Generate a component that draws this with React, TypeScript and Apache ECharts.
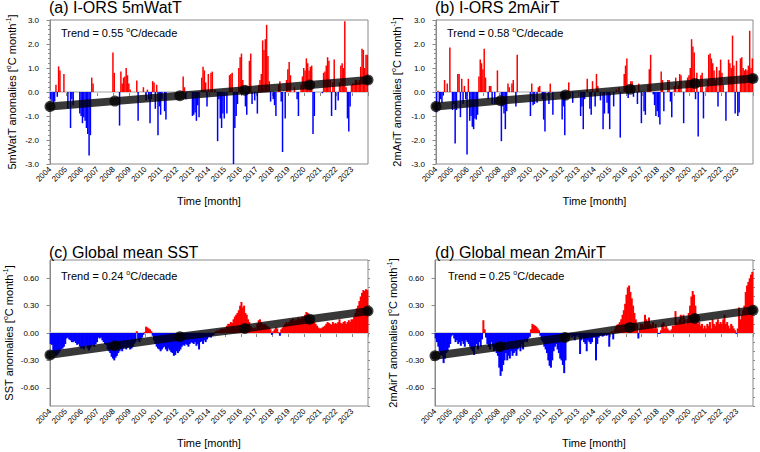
import React, { useEffect, useRef } from 'react';
import * as echarts from 'echarts';

const FONT = "'Liberation Sans', Arial, Helvetica, sans-serif";

const YEARS = ['2004','2005','2006','2007','2008','2009','2010','2011','2012','2013','2014','2015','2016','2017','2018','2019','2020','2021','2022','2023'];

// (a) I-ORS 5mWatT monthly anomalies, 2004-01 .. 2023-12 (0 = no bar)
const ANOM_A = [
  -0.3, -0.4, -0.5, -0.4, 0.3, -0.2, 1.07, 0.9, 0, 0, 0.75, 0,
  0, -0.7, 0, -1.5, -0.3, -0.55, 0, 0, 0, 0, -0.9, -1.0,
  -1.3, -1.05, -1.2, -1.5, -1.75, -2.65, -1.8, 0.6, 0.35, 0, 0, 0,
  0, 0, 0, 0, 0, 0, 0, 0, 0, 0, 0, 1.65,
  0.8, 0, 0, 0, -1.4, 0.85, 0.35, 0.6, 0.65, 1.0, 0.7, 0.35,
  0.1, 0, 0, 0, 0, 0.48, -1.2, 0, 0, 0, 0.2, 0,
  -0.35, 0.1, -0.3, -1.3, -0.3, 0.45, 0.4, -0.7, 0.3, -1.8, -0.6, -0.95,
  -0.3, 0, -0.8, -1.15, 0, 0, 0, 0, 0, 0, 0, 0,
  0, 0, 0, 0, 0.65, 0.2, -0.3, 0, 0, 0, 0, -1.0,
  -0.95, -0.85, -1.2, -0.55, -1.05, 0, 0.6, 1.05, 0.9, 0.4, -0.6, 0.75,
  0, 0.8, 0.85, 0, 0.1, 0, -2.05, -0.3, -1.1, -1.5, -0.9, -1.1,
  0, -0.9, 0, 0.7, 0.75, 0.8, -3.0, -1.5, -1.0, -0.5, 1.0, 1.45,
  1.6, 0.5, 0, -0.6, -0.95, 0, 1.3, 1.6, -0.5, 0, -0.35, 0,
  -0.9, 0.3, 0.5, 0.75, 2.15, 1.75, 2.2, 2.8, 1.5, 0.45, -0.4, 0,
  -0.3, -0.55, -1.0, 0, 0.3, 0.45, -0.4, -2.5, 0, -1.1, 0.5, 0.95,
  1.25, 0.7, 0, 0, 0.2, 0, -0.3, -1.0, 0, 0.3, 0.65, 1.0,
  0.9, 1.4, 1.2, 0.9, 1.05, 1.1, -1.75, -1.0, 0, 0, 0, 0,
  0, -0.05, 0.8, 0.85, 1.1, 1.45, 1.3, 0.5, -1.0, 0.4, 1.35, -0.75,
  0, -0.35, 0.4, 1.1, 1.2, 1.0, 2.95, 0.2, -1.1, -1.65, -0.6, 0.3,
  0.35, 0.35, 0.5, 0.5, 0.4, 0.5, 1.05, 1.8, 1.75, 1.0, 1.55, 1.55,
];

// (b) I-ORS 2mAirT
const ANOM_B = [
  -0.85, 0.05, -0.5, -0.3, -0.45, -0.15, 0.5, 0, 0.35, 0, 1.85, 0,
  -0.75, -0.5, -2.15, -0.75, 0.75, 0.75, -1.05, 0.55, -0.5, 0.25, -0.3, -2.6,
  0.55, -1.2, -1.0, -1.45, -1.55, -1.1, -1.15, -0.95, 0.65, 1.35, 1.2, 0.95,
  1.8, 0.6, 0, -0.3, 0.25, 0.25, -0.5, 0, -0.5, 0, 0.9, 0,
  0, -2.05, -0.6, -0.9, -1.55, -0.8, 0.35, 0.2, 0, 0.35, 0.5, 0,
  -0.6, 1.55, 0, 0, 0, 0, 0, 0, 0, 0, 0, -1.0,
  0.35, -0.55, -0.5, 0, -0.45, 0.2, 0.25, 0, -0.3, -1.15, -1.65, 0,
  0, -0.5, 0.35, 0, -0.95, 0, 0, 0, 0, 0, 0, -1.15,
  -0.6, -1.8, 0, 0, 0.4, 0, 0, -0.45, 0, 0, 0, 0,
  0, -1.0, -0.6, -1.55, -0.3, 0, 0.55, 0, -0.7, -0.95, 0.45, 0,
  -0.6, 0.75, 0.25, 0, -0.35, 0, -1.55, -0.9, 0, -0.45, -0.9, -1.55,
  0, 0, -0.6, 0, 0.1, 0, 0.2, -1.9, 0, 0, 0.75, 1.1,
  1.4, -0.25, 0, 0.45, 0.45, -0.2, 0, 0, -0.5, 0.35, 0, -1.3,
  0, -0.8, -0.95, 0, 0.3, 0.95, 1.55, 0, -0.1, -0.55, -1.0, -0.8,
  -1.05, -1.35, 0.85, 0.5, -0.8, 0, 0, 0.5, 0.5, -0.4, -1.05, 0,
  0.25, 0.6, 0, 0.3, 0.75, 0.7, 0, -1.3, 0, 0.45, 0.6, 0.7,
  1.0, 2.2, 1.9, 1.65, -0.3, 0.8, -1.85, 0, 0.7, 0.8, -1.1, 0,
  0.2, 0.5, 1.55, 1.6, 1.4, 1.2, 0.9, 0.5, 1.05, -0.6, 0.9, 1.35,
  0.8, 0.3, 0, -1.2, 0, 1.35, 1.2, 1.0, 2.35, 1.1, -0.9, 1.3,
  -1.0, -0.85, 1.4, 1.45, 1.0, 0.9, 0.95, 0.9, 1.1, 2.55, 1.0, 1.4,
];

// (c) Global mean SST
const ANOM_C = [
  -0.12, -0.13, -0.2, -0.22, -0.25, -0.24, -0.22, -0.2, -0.18, -0.17, -0.15, -0.12,
  -0.06, -0.05, -0.07, -0.08, -0.1, -0.1, -0.09, -0.11, -0.13, -0.12, -0.15, -0.17,
  -0.16, -0.18, -0.15, -0.14, -0.17, -0.19, -0.16, -0.14, -0.13, -0.15, -0.12, -0.1,
  -0.05, -0.06, -0.05, -0.08, -0.1, -0.12, -0.13, -0.18, -0.2, -0.22, -0.26, -0.28,
  -0.3, -0.27, -0.25, -0.22, -0.2, -0.18, -0.2, -0.17, -0.15, -0.18, -0.16, -0.15,
  -0.18, -0.17, -0.15, -0.12, -0.1, 0.02, -0.08, -0.1, -0.07, -0.05, -0.02, 0.01,
  0.07, 0.06, 0.05, 0.04, 0.02, -0.03, -0.08, -0.12, -0.15, -0.17, -0.18, -0.2,
  -0.18, -0.16, -0.15, -0.18, -0.2, -0.17, -0.19, -0.21, -0.22, -0.25, -0.24, -0.2,
  -0.22, -0.2, -0.18, -0.15, -0.13, -0.14, -0.12, -0.13, -0.15, -0.12, -0.1, -0.11,
  -0.12, -0.1, -0.14, -0.12, -0.18, -0.1, -0.09, -0.12, -0.08, -0.1, -0.07, -0.05,
  -0.04, -0.05, -0.03, -0.02, 0.01, 0.02, 0.03, 0.02, 0.04, 0.05, 0.04, 0.05,
  0.05, 0.08, 0.1, 0.1, 0.12, 0.11, 0.15, 0.18, 0.2, 0.22, 0.25, 0.3,
  0.34, 0.28, 0.3, 0.22, 0.2, 0.15, 0.12, 0.08, 0.06, 0.05, 0.06, 0.04,
  0.1, 0.14, 0.15, 0.12, 0.1, 0.09, 0.1, 0.08, 0.07, 0.06, 0.04, -0.02,
  0.02, 0.04, 0.06, 0.05, 0.01, -0.03, 0.04, 0.06, 0.08, 0.1, 0.12, 0.1,
  0.12, 0.14, 0.15, 0.16, 0.13, 0.15, 0.14, 0.17, 0.15, 0.16, 0.18, 0.17,
  0.2, 0.23, 0.22, 0.2, 0.18, 0.15, 0.14, 0.12, 0.1, 0.08, 0.06, 0.05,
  0.05, 0.06, 0.07, 0.08, 0.1, 0.12, 0.11, 0.1, 0.09, 0.12, 0.1, 0.11,
  0.1, 0.12, 0.15, 0.11, 0.1, 0.12, 0.13, 0.1, 0.12, 0.14, 0.12, 0.15,
  0.15, 0.18, 0.22, 0.27, 0.3, 0.35, 0.4, 0.44, 0.47, 0.46, 0.48, 0.47,
];

// (d) Global mean 2mAirT
const ANOM_D = [
  -0.06, -0.1, -0.15, -0.2, -0.24, -0.25, -0.33, -0.28, -0.22, -0.2, -0.16, -0.12,
  -0.03, -0.02, -0.06, -0.1, -0.08, -0.12, -0.1, -0.14, -0.09, -0.12, -0.15, -0.08,
  -0.1, -0.12, -0.15, -0.18, -0.2, -0.24, -0.15, -0.12, -0.18, -0.1, -0.15, -0.07,
  0.14, 0.04, -0.05, -0.12, -0.15, -0.18, -0.1, -0.15, -0.2, -0.18, -0.22, -0.25,
  -0.38, -0.47, -0.42, -0.35, -0.3, -0.22, -0.3, -0.25, -0.28, -0.2, -0.25, -0.22,
  -0.2, -0.25, -0.18, -0.15, -0.2, -0.12, -0.18, -0.1, -0.08, -0.1, -0.06, -0.04,
  0.04, 0.1, 0.09, 0.08, 0.07, 0.05, 0.03, -0.03, -0.08, -0.1, -0.15, -0.18,
  -0.22, -0.3, -0.36, -0.38, -0.3, -0.2, -0.15, -0.12, -0.18, -0.22, -0.28, -0.3,
  -0.35, -0.44, -0.3, -0.05, -0.03, -0.04, -0.02, -0.05, -0.03, -0.08, -0.04, -0.02,
  -0.04, -0.23, -0.08, -0.05, -0.1, -0.12, -0.2, -0.08, -0.1, -0.12, -0.1, -0.05,
  -0.05, -0.3, -0.12, -0.05, -0.03, -0.02, -0.04, -0.03, -0.02, -0.03, -0.02, -0.15,
  0.01, 0.02, -0.07, 0.04, 0.07, 0.09, 0.1, 0.12, 0.15, 0.2, 0.25, 0.32,
  0.42, 0.5, 0.52, 0.45, 0.38, 0.3, 0.22, 0.15, 0.1, -0.06, 0.05, 0.1,
  0.1, 0.08, 0.2, 0.15, 0.12, 0.17, 0.1, 0.08, 0.12, 0.05, 0.1, 0.05,
  -0.01, -0.01, 0.03, 0.1, 0.12, 0.05, 0.08, 0.05, 0.03, 0.02, 0.04, 0.08,
  0.08, 0.24, 0.12, 0.1, 0.15, 0.2, 0.12, 0.2, 0.15, 0.1, 0.15, 0.22,
  0.3, 0.4, 0.46, 0.42, 0.3, 0.2, 0.1, 0.12, 0.08, 0.1, 0.05, 0.08,
  0.05, 0.1, 0.08, 0.12, 0.05, 0.15, 0.1, 0.08, 0.12, 0.15, 0.1, 0.12,
  0.1, 0.15, 0.2, 0.1, 0.12, 0.08, 0.05, 0.1, 0.08, 0.05, 0.03, -0.01,
  0.05, 0.28, 0.15, 0.2, 0.25, 0.3, 0.45, 0.52, 0.56, 0.6, 0.64, 0.67,
];

// Regression line, read at the marked points (month index, value)
const TREND_MONTHS = [0, 49, 98, 147, 196, 240];
const TREND_A = [-0.6, -0.38, -0.16, 0.07, 0.29, 0.5];
const TREND_B = [-0.6, -0.36, -0.13, 0.11, 0.35, 0.56];
const TREND_C = [-0.24, -0.14, -0.04, 0.05, 0.15, 0.24];
const TREND_D = [-0.25, -0.15, -0.05, 0.06, 0.16, 0.25];

const TREND_LABELS = ['0.55', '0.58', '0.24', '0.25'];
const TITLES = ['(a) I-ORS 5mWatT', '(b) I-ORS 2mAirT', '(c) Global mean SST', '(d) Global mean 2mAirT'];
const Y_VARS = ['5mWatT', '2mAriT', 'SST', '2mAirT'];
const NARROW_TICKS = [-0.6, -0.3, 0, 0.3, 0.6];

const PANELS = [
  { values: ANOM_A, trend: TREND_A, wide: true },
  { values: ANOM_B, trend: TREND_B, wide: true },
  { values: ANOM_C, trend: TREND_C, wide: false },
  { values: ANOM_D, trend: TREND_D, wide: false },
];

const LAYOUT = [
  { grid: { left: 50, top: 20, width: 318, height: 144 }, titleX: 49, titleY: -1, trendX: 61, trendY: 26, nameGap: 31, barW: 1.5 },
  { grid: { left: 436, top: 20, width: 317, height: 144 }, titleX: 435, titleY: -1, trendX: 447, trendY: 26, nameGap: 32, barW: 1.5 },
  { grid: { left: 50, top: 260, width: 318, height: 146 }, titleX: 49, titleY: 244, trendX: 61, trendY: 269, nameGap: 34, barW: 2 },
  { grid: { left: 435, top: 260, width: 318, height: 146 }, titleX: 435, titleY: 244, trendX: 448, trendY: 269, nameGap: 35, barW: 2 },
];

const FRAME = '#8a8a8a';
const RED = '#ff0000';
const BLUE = '#0000ff';

const txt = (size: number, extra: any = {}) => ({
  fontSize: size, fontFamily: FONT, fontWeight: 'normal', color: '#000', ...extra,
});

function buildOption() {
  const grid: any[] = [];
  const xAxis: any[] = [];
  const yAxis: any[] = [];
  const series: any[] = [];
  const title: any[] = [];

  PANELS.forEach((p, i) => {
    const L = LAYOUT[i];
    grid.push({ ...L.grid, show: true, borderColor: FRAME, borderWidth: 1, backgroundColor: 'transparent' });

    xAxis.push({
      type: 'value', gridIndex: i, min: 0, max: 240, interval: 12,
      name: 'Time [month]', nameLocation: 'middle', nameGap: 31,
      nameTextStyle: txt(11),
      axisLine: { show: true, lineStyle: { color: FRAME, width: 1 } },
      axisTick: { show: true, length: 4, lineStyle: { color: FRAME } },
      axisLabel: {
        ...txt(8), rotate: 45, margin: 4,
        formatter: (v: number) => YEARS[Math.round(v / 12)] ?? '',
      },
      splitLine: { show: false },
    });

    const yName = `{t|${Y_VARS[i]} anomalies [}{s|o}{t|C month}{s|-1}{t|]}`;
    const nameTextStyle = {
      ...txt(11),
      rich: {
        t: txt(11, { lineHeight: 14 }),
        s: txt(7, { lineHeight: 8, verticalAlign: 'top' }),
      },
    };
    const majorIndex = yAxis.length;
    if (p.wide) {
      yAxis.push({
        type: 'value', gridIndex: i, min: -3, max: 3, interval: 1,
        name: yName, nameLocation: 'middle', nameGap: L.nameGap, nameTextStyle,
        axisLine: { show: true, lineStyle: { color: FRAME } },
        axisTick: { show: true, length: 3.5, lineStyle: { color: FRAME } },
        minorTick: { show: true, splitNumber: 5, length: 2, lineStyle: { color: FRAME } },
        axisLabel: { ...txt(8), margin: 11, formatter: (v: number) => v.toFixed(1) },
        splitLine: { show: false },
      });
    } else {
      yAxis.push({
        type: 'value', gridIndex: i, min: -0.8, max: 0.8, interval: 0.1,
        name: yName, nameLocation: 'middle', nameGap: L.nameGap, nameTextStyle,
        axisLine: { show: true, lineStyle: { color: FRAME } },
        axisTick: { show: true, length: 3.5, customValues: NARROW_TICKS, lineStyle: { color: FRAME } },
        axisLabel: { ...txt(8), margin: 11, customValues: NARROW_TICKS, formatter: (v: number) => v.toFixed(2) },
        splitLine: { show: false },
      });
      yAxis.push({
        type: 'value', gridIndex: i, min: -0.8, max: 0.8, interval: 0.1,
        axisLine: { show: false },
        axisTick: { show: true, length: 2, lineStyle: { color: FRAME } },
        axisLabel: { show: false },
        splitLine: { show: false },
      });
    }

    series.push({
      type: 'line', xAxisIndex: i, yAxisIndex: majorIndex, silent: true,
      data: [[0, 0], [240, 0]], symbol: 'none',
      lineStyle: { color: '#d0d0d0', width: 2 }, z: 1,
    });
    series.push({
      type: 'bar', xAxisIndex: i, yAxisIndex: majorIndex, barWidth: L.barW,
      data: p.values.map((v, m) => [m + 0.5, v]),
      itemStyle: { color: (prm: any) => (prm.value[1] >= 0 ? RED : BLUE) },
      z: 2,
    });
    series.push({
      type: 'line', xAxisIndex: i, yAxisIndex: majorIndex, clip: false,
      data: TREND_MONTHS.map((m, k) => [m, p.trend[k]]),
      symbol: 'circle', symbolSize: 11, showAllSymbol: true,
      itemStyle: { color: '#000', opacity: 0.75 },
      lineStyle: { color: '#000', width: 8, opacity: 0.78, cap: 'round' },
      z: 5,
    });

    title.push({
      text: TITLES[i], left: L.titleX, top: L.titleY, padding: 0,
      textStyle: txt(16),
    });
    title.push({
      text: `{n|Trend = ${TREND_LABELS[i]} }{s|o}{n|C/decade}`, left: L.trendX, top: L.trendY, padding: 0,
      textStyle: {
        ...txt(11),
        rich: {
          n: txt(11, { lineHeight: 14 }),
          s: txt(7, { lineHeight: 8, verticalAlign: 'top' }),
        },
      },
    });
  });

  return { animation: false, backgroundColor: '#fff', title, grid, xAxis, yAxis, series };
}

export default function App() {
  const ref = useRef<HTMLDivElement>(null);
  useEffect(() => {
    if (!ref.current) return;
    const chart = echarts.init(ref.current, undefined, { renderer: 'svg' });
    chart.setOption(buildOption() as any);
    return () => chart.dispose();
  }, []);
  return <div ref={ref} style={{ position: 'fixed', left: 0, top: 0, width: 760, height: 452, background: '#fff' }} />;
}
